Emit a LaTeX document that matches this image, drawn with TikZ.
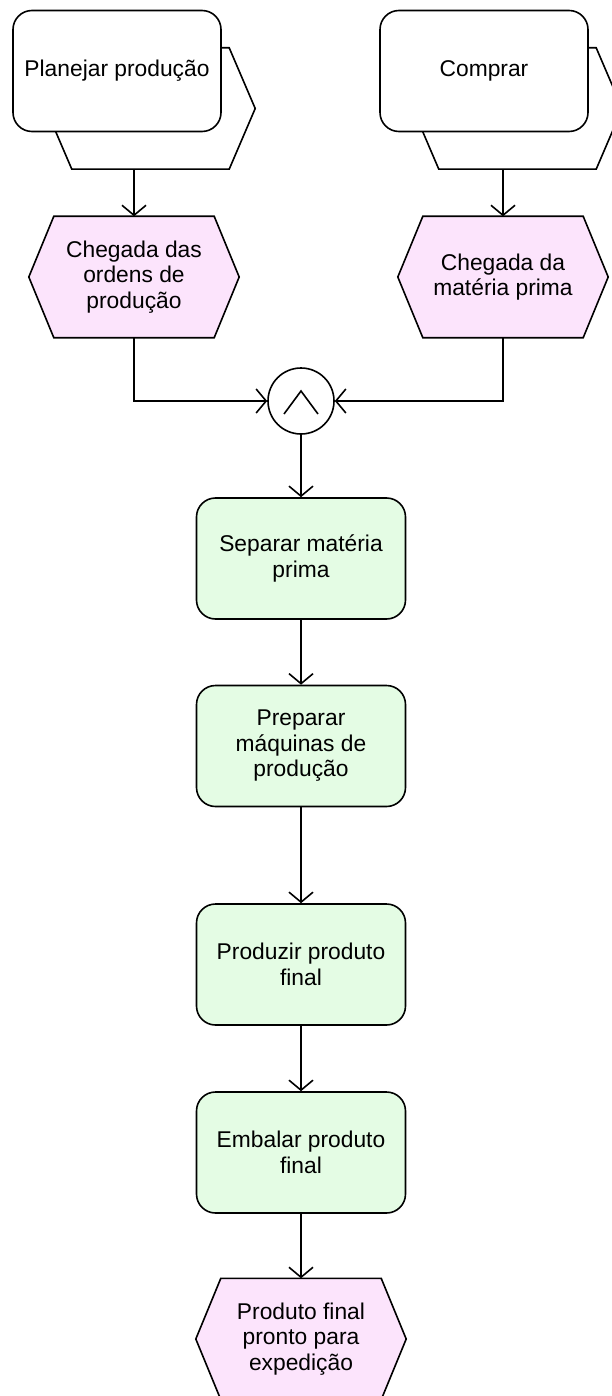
\documentclass[tikz,border=0pt]{standalone}
\usepackage{fontspec}
\setmainfont{Liberation Sans}
\usetikzlibrary{arrows.meta,backgrounds}

\definecolor{evfill}{RGB}{252,228,252}
\definecolor{fnfill}{RGB}{228,252,228}

% hexagon outline around a rectangular node, #2 = horizontal slant in pt
\newcommand{\hexof}[2]{(#1.west) -- ([xshift=#2pt]#1.north west) -- ([xshift=-#2pt]#1.north east) -- (#1.east) -- ([xshift=-#2pt]#1.south east) -- ([xshift=#2pt]#1.south west) -- cycle}

\tikzset{
  lbl/.style={align=center, inner sep=0pt, font=\fontsize{22.8}{25.5}\selectfont},
  func/.style={lbl, draw=black, line width=1.6pt, rounded corners=19pt,
    minimum width=209pt, minimum height=121pt, fill=fnfill},
  procif/.style={func, fill=white, minimum width=208pt},
  ifback/.style={minimum width=209pt, minimum height=121pt, inner sep=0pt},
  evnode/.style={lbl, minimum width=210pt, minimum height=121pt},
  hexline/.style={draw=black, line width=1.6pt, line join=miter},
  andnode/.style={circle, draw=black, line width=1.6pt, fill=white,
    minimum size=66pt, inner sep=0pt},
  flow/.style={line width=1.6pt, -{Straight Barb[length=10pt,width=24pt]}},
}

\begin{document}
\begin{tikzpicture}[x=1pt,y=-1pt]
\useasboundingbox (0,0) rectangle (612,1396);

% process interfaces: hexagon behind a rounded box
\node[ifback] (p1i) at (150.5,108.5) {};
\draw[hexline, fill=white] \hexof{p1i}{26};
\node[procif] (p1) at (117,71) {Planejar produção};

\node[ifback] (p2i) at (517.5,108.5) {};
\draw[hexline, fill=white] \hexof{p2i}{26};
\node[procif] (p2) at (484,71) {Comprar};

% events
\node[evnode] (e1) at (134,277) {Chegada das\\ordens de\\produção};
\node[evnode] (e2) at (503,277) {Chegada da\\matéria prima};

% AND connector
\node[andnode] (and) at (301,401) {};
\draw[line width=1.6pt] ([shift={(-17,13)}]and.center) -- ([shift={(0,-10)}]and.center) -- ([shift={(17,13)}]and.center);

% functions
\node[func] (f1) at (301,558.5) {Separar matéria\\prima};
\node[func] (f2) at (301,746) {Preparar\\máquinas de\\produção};
\node[func] (f3) at (301,964.5) {Produzir produto\\final};
\node[func] (f4) at (301,1152.5) {Embalar produto\\final};

% final event
\node[evnode] (e3) at (301,1339) {Produto final\\pronto para\\expedição};

\begin{scope}[on background layer]
  \foreach \n in {e1,e2,e3} \draw[hexline, fill=evfill] \hexof{\n}{25};
\end{scope}

% control flow
\draw[flow] (e1.north |- p1i.south) -- (e1.north);
\draw[flow] (e2.north |- p2i.south) -- (e2.north);
\draw[flow] (e1.south) |- (and.west);
\draw[flow] (e2.south) |- (and.east);
\draw[flow] (and.south) -- (and.south |- f1.north);
\draw[flow] (f1.south) -- (f2.north);
\draw[flow] (f2.south) -- (f3.north);
\draw[flow] (f3.south) -- (f4.north);
\draw[flow] (f4.south) -- (f4.south |- e3.north);
\end{tikzpicture}
\end{document}
